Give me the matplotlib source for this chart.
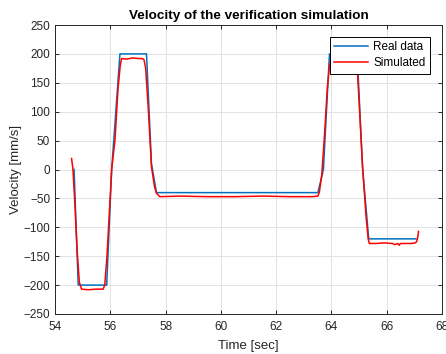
import matplotlib
matplotlib.use("Agg")
from matplotlib import pyplot as plt

plt.rcParams['font.family'] = ['Liberation Sans', 'DejaVu Sans']

# measured velocity (blue)
real_t = [54.69, 54.84, 55.87, 56.05, 56.35, 57.31, 57.49, 57.67, 63.51, 63.71, 63.93,
          64.93, 65.13, 65.35, 67.06]
real_v = [0, -200, -200, 0, 200, 200, 10, -40, -40, 0, 200,
          200, 0, -120, -120]

# simulated velocity (red)
sim_t = [54.60, 54.65, 54.72, 54.80, 54.88, 54.96, 55.2, 55.5, 55.74, 55.80, 55.88, 55.96,
         56.05, 56.17, 56.28, 56.36, 56.41, 56.6, 56.8, 57.0, 57.15, 57.22, 57.28, 57.37,
         57.49, 57.6, 57.67, 57.79, 58.5, 59.5, 60.5, 61.5, 62.5, 63.3, 63.51, 63.56,
         63.65, 63.75, 63.85, 63.93, 63.99, 64.3, 64.6, 64.85, 64.92, 65.01, 65.12, 65.25,
         65.33, 65.37, 65.6, 65.9, 66.2, 66.3, 66.4, 66.45, 66.5, 66.7, 66.9, 67.03,
         67.08, 67.12, 67.15]
sim_v = [19, 0, -60, -140, -195, -207, -208, -207, -207, -200, -150, -80,
         0, 51, 140, 180, 192, 191, 193, 192, 192, 190, 175, 109,
         5, -30, -41, -47, -46, -47, -47, -46, -47, -47, -46, -40,
         -10, 60, 140, 180, 192, 193, 192, 193, 188, 109, 10, -80,
         -120, -128, -128, -127, -128, -130, -128, -131, -128, -128, -128, -127,
         -125, -118, -107]

fig = plt.figure(figsize=(4.46, 3.54), dpi=100)
ax = fig.add_axes([55/446, 1 - 314/354, 387/446, 289/354])

ax.plot(real_t, real_v, color='#0072BD', lw=1.1, label='Real data')
ax.plot(sim_t, sim_v, color='#FF0000', lw=1.1, label='Simulated')

ax.set_xlim(54, 68)
ax.set_ylim(-250, 250)
ax.set_xticks(range(54, 69, 2))
ax.set_yticks(range(-250, 251, 50))

ax.grid(True, color='#e3e3e3', lw=0.7)
ax.set_axisbelow(True)
for s in ax.spines.values():
    s.set_color('#262626')
    s.set_linewidth(0.7)
ax.tick_params(direction='in', length=3, width=0.7, colors='#262626',
               labelsize=8.5, top=True, right=True)
ax.tick_params(axis='x', pad=5)

ax.set_title('Velocity of the verification simulation', fontsize=9.7, fontweight='bold', pad=4)
ax.set_xlabel('Time [sec]', fontsize=9.5, color='#262626', labelpad=5)
ax.set_ylabel('Velocity [mm/s]', fontsize=9.5, color='#262626', labelpad=1)

leg = ax.legend(loc='upper right', bbox_to_anchor=(0.97, 0.96), fontsize=8.5,
                fancybox=False, edgecolor='black', framealpha=1,
                handlelength=2.8, handletextpad=0.5, borderpad=0.4,
                labelspacing=0.35, borderaxespad=0)
leg.get_frame().set_linewidth(0.7)

plt.savefig("out.png", dpi=100)
plt.close()
